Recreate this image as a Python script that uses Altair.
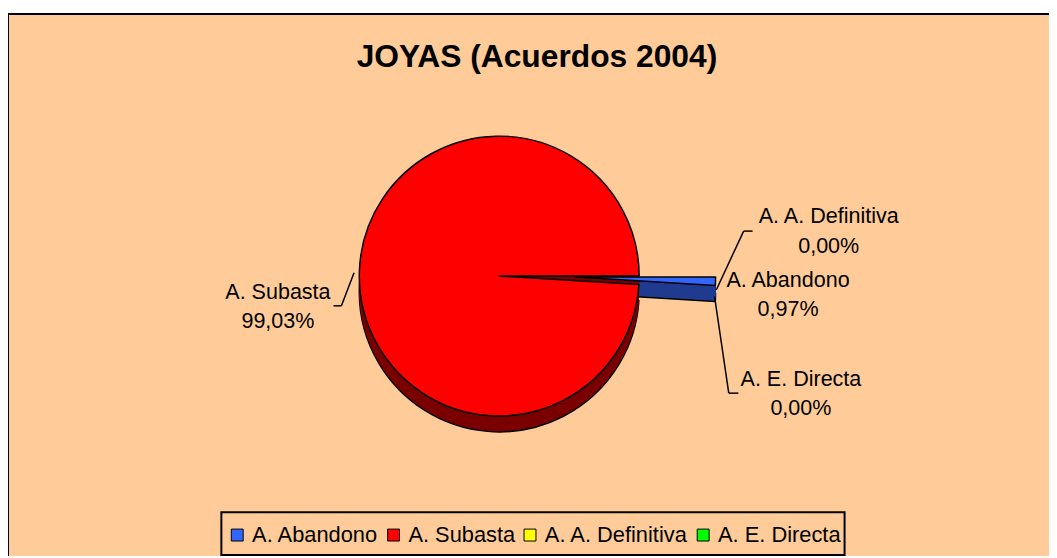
import math
import altair as alt
import pandas as pd

# ---- data ----
categories = ["A. Abandono", "A. Subasta", "A. A. Definitiva", "A. E. Directa"]
values = [0.97, 99.03, 0.00, 0.00]
top_colors = ["#3366FF", "#FF0000", "#FFFF00", "#00FF00"]
side_colors = ["#1F3A8F", "#7A0000", "#999900", "#009900"]
title_text = "JOYAS (Acuerdos 2004)"

df = pd.DataFrame({"cat": categories, "val": values, "idx": list(range(len(categories)))})

# ---- layout / style ----
FONT = "Liberation Sans"
W, H = 1049, 546
CX, CY = 495, 264          # pie centre (view coords)
R = 141
DEPTH = 16
EXPLODE = {"A. Abandono": (77, 1)}
BG = "#FFCC99"

theta_scale = alt.Scale(domain=[0, sum(values)],
                        range=[math.pi / 2, math.pi / 2 + 2 * math.pi])
color_scale = alt.Scale(domain=categories, range=top_colors)

base = (
    alt.Chart(df)
    .transform_window(end="sum(val)", sort=[alt.SortField("idx")], frame=[None, 0])
    .transform_calculate(start="datum.end - datum.val")
)


def arc_layer(cat, yoff, fill=None, stroke=None, legend=False):
    dx, dy = EXPLODE.get(cat, (0, 0))
    kw = dict(radius=R, xOffset=dx, yOffset=dy + yoff)
    if stroke:
        kw.update(stroke=stroke, strokeWidth=1.5, strokeJoin="round")
    else:
        kw.update(strokeWidth=0)
    if fill:
        kw.update(fill=fill)
    enc = dict(
        theta=alt.Theta("start:Q", scale=theta_scale),
        theta2="end:Q",
        x=alt.value(CX),
        y=alt.value(CY),
    )
    if legend:
        enc["color"] = alt.Color(
            "cat:N", scale=color_scale,
            legend=alt.Legend(
                orient="none", legendX=220, legendY=514, direction="horizontal",
                columns=4, title=None, symbolType="square", symbolSize=144,
                symbolStrokeColor="black", symbolStrokeWidth=1,
                labelFontSize=22, labelFont=FONT, labelColor="black",
                labelOffset=4, columnPadding=3.5, padding=0, labelLimit=0,
            ),
        )
    return (
        base.transform_filter(alt.datum.cat == cat)
        .mark_arc(**kw)
        .encode(**enc)
    )


drawn = [c for c, v in zip(categories, values) if v > 0]
side_of = dict(zip(categories, side_colors))

layers = []
# legend box
layers.append(
    alt.Chart(df.head(1)).mark_rect(fill=BG, stroke="black", strokeWidth=2)
    .encode(x=alt.value(215), x2=alt.value(843), y=alt.value(502), y2=alt.value(545))
)
# bottom outline of the extruded side
for c in drawn:
    layers.append(arc_layer(c, DEPTH, fill=side_of[c], stroke="black"))
# side fill
for c in drawn:
    for d in range(0, DEPTH):
        layers.append(arc_layer(c, d, fill=side_of[c]))
# top faces (red first, exploded blue on top)
order_top = ["A. Subasta", "A. Abandono"]
for c in order_top:
    layers.append(arc_layer(c, 0, stroke="black", legend=True))

# ---- labels ----
label_pos = {
    "A. Subasta": (272, 287),
    "A. A. Definitiva": (827, 211),
    "A. Abandono": (786, 275),
    "A. E. Directa": (799, 375),
}
for c in categories:
    lx, ly = label_pos[c]
    layers.append(
        alt.Chart(df)
        .transform_filter(alt.datum.cat == c)
        .transform_calculate(
            lab="datum.cat + '\\n' + replace(format(datum.val, '.2f'), '.', ',') + '%'"
        )
        .mark_text(lineBreak="\n", lineHeight=29.5, align="center",
                   baseline="alphabetic", font=FONT, fontSize=21.7, color="black")
        .encode(text="lab:N", x=alt.value(lx), y=alt.value(ly))
    )

# leader lines
leaders = [
    [(348.7, 260.7), (336, 294), (328, 294)],
    [(713.7, 278), (741.3, 218.7), (750.3, 218.7)],
    [(712, 284.7), (726.3, 382), (736, 382)],
]
for pts in leaders:
    for (x1, y1), (x2, y2) in zip(pts[:-1], pts[1:]):
        layers.append(
            alt.Chart(df.head(1)).mark_rule(color="black", strokeWidth=1.5)
            .encode(x=alt.value(x1), y=alt.value(y1), x2=alt.value(x2), y2=alt.value(y2))
        )

# title
layers.append(
    alt.Chart(pd.DataFrame({"t": [title_text]}))
    .mark_text(font=FONT, fontSize=32, fontWeight="bold", align="center",
               baseline="alphabetic", color="black")
    .encode(text="t:N", x=alt.value(533), y=alt.value(53))
)

# frame (left and top border lines)
layers.append(
    alt.Chart(df.head(1)).mark_rule(color="black", strokeWidth=2)
    .encode(x=alt.value(0), y=alt.value(0), y2=alt.value(H))
)
layers.append(
    alt.Chart(df.head(1)).mark_rule(color="black", strokeWidth=2)
    .encode(x=alt.value(0), x2=alt.value(W), y=alt.value(0))
)

chart = (
    alt.layer(*layers)
    .properties(width=W, height=H, background="white",
                padding={"left": 0, "top": 4, "right": 0, "bottom": 0},
                autosize=alt.AutoSizeParams(type="none"))
    .configure_view(fill=BG, stroke=None)
)

chart.save("out.html", embed_options={"renderer": "svg", "actions": False})
